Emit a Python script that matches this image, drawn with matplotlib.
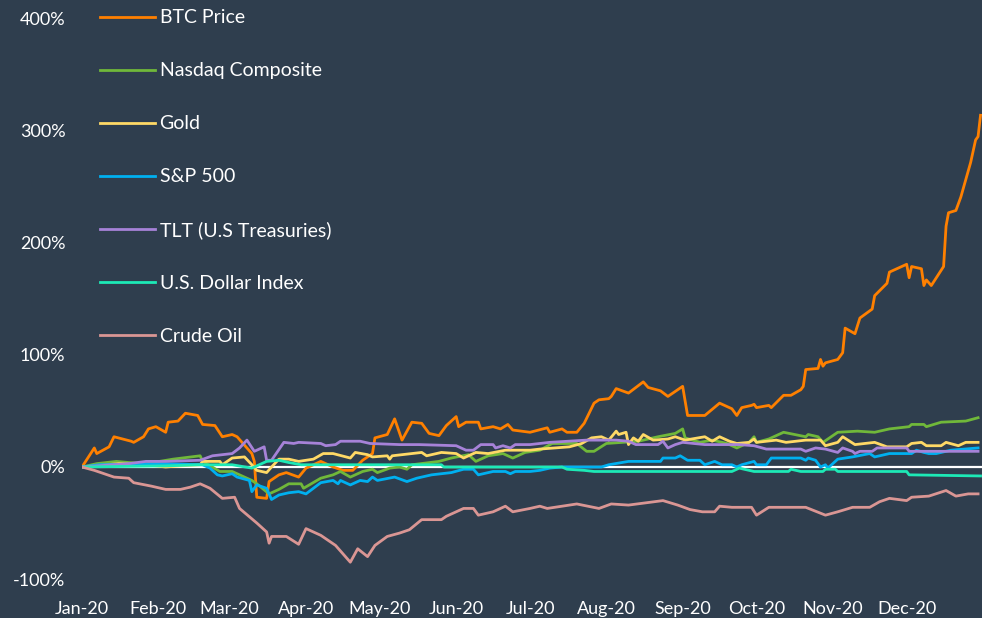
import numpy as np
import matplotlib
matplotlib.use("Agg")
import matplotlib.pyplot as plt
import matplotlib.dates as mdates

# Performance since Jan 1 2020 (%).
# x values are days after 2020-01-01
btc_days = [0, 5, 6, 11, 13, 20, 21, 25, 27, 30, 34, 35, 39, 42, 47, 49, 54, 57, 61, 63,
            69, 70, 71, 75, 76, 80, 83, 88, 91, 97, 102, 106, 110, 114, 118, 119, 124, 127,
            130, 134, 138, 141, 145, 148, 152, 153, 156, 161, 162, 167, 170, 173, 175, 182,
            189, 190, 195, 197, 201, 204, 208, 210, 214, 215, 217, 222, 225, 228, 230, 235,
            238, 240, 242, 244, 246, 253, 259, 264, 266, 268, 272, 273, 274, 279, 280, 285,
            288, 292, 293, 294, 299, 300, 301, 302, 307, 309, 310, 314, 316, 321, 322, 327,
            328, 335, 336, 337, 341, 342, 343, 345, 350, 351, 352, 355, 357, 361, 363, 364, 365]
btc_vals = [0, 17, 12, 18, 27, 23, 22, 27, 34, 36, 31, 40, 41, 48, 46, 38, 37, 27, 29, 27,
            12, 5, -27, -28, -13, -7, -5, -9, -1, 5, 0, -3, -3, 6, 12, 26, 29, 43,
            24, 40, 39, 30, 28, 37, 45, 36, 40, 40, 34, 36, 34, 38, 33, 31,
            35, 31, 34, 31, 31, 39, 57, 60, 61, 63, 70, 66, 71, 76, 71, 68,
            63, 66, 69, 72, 46, 46, 57, 52, 46, 53, 55, 56, 53, 55, 53, 64,
            64, 69, 72, 87, 88, 96, 90, 93, 96, 102, 124, 119, 133, 141, 153, 164,
            174, 181, 169, 179, 177, 162, 167, 162, 179, 215, 227, 229, 241, 272, 292, 295, 314]

nasdaq_days = [0, 6, 14, 19, 26, 37, 48, 49, 56, 61, 64, 69, 71, 76, 80, 84, 89, 90, 97, 102,
               105, 109, 114, 118, 120, 125, 129, 132, 134, 145, 150, 157, 160, 165, 171, 175,
               180, 186, 191, 201, 205, 208, 213, 226, 234, 241, 244, 245, 251, 256, 262, 266,
               271, 273, 274, 279, 285, 294, 295, 299, 301, 307, 315, 322, 328, 336, 337, 342,
               343, 349, 359, 364]
nasdaq_vals = [0, 3, 5, 4, 3, 7, 10, 5, -4, -4, -7, -12, -15, -24, -20, -15, -15, -19, -10, -7,
               -4, -9, -4, -2, -5, -1, 0, -2, 2, 5, 8, 11, 5, 10, 12, 8,
               13, 15, 21, 21, 14, 14, 21, 23, 27, 30, 34, 26, 22, 24, 21, 17,
               22, 27, 22, 25, 31, 27, 29, 27, 22, 31, 32, 31, 34, 36, 38, 38,
               36, 40, 41, 44]

gold_days = [0, 15, 26, 34, 40, 48, 49, 56, 57, 61, 66, 69, 71, 75, 77, 80, 84, 88, 94, 98,
             102, 109, 111, 116, 118, 124, 125, 126, 138, 140, 146, 152, 155, 160, 165, 172,
             182, 186, 198, 203, 207, 211, 214, 217, 218, 221, 222, 224, 226, 228, 232, 238,
             241, 245, 253, 256, 259, 263, 266, 271, 273, 274, 282, 286, 294, 300, 302, 307,
             309, 314, 322, 327, 335, 337, 341, 343, 349, 351, 356, 359, 364]
gold_vals = [0, 3, 2, 0, 1, 2, 5, 5, 2, 8, 9, 2, -3, -5, 0, 7, 7, 5, 7, 12,
             12, 8, 13, 11, 9, 10, 7, 10, 13, 10, 13, 12, 8, 13, 12, 15,
             15, 16, 18, 21, 26, 27, 24, 32, 29, 31, 20, 26, 23, 29, 24, 25,
             27, 24, 27, 23, 27, 23, 21, 22, 25, 22, 24, 22, 24, 24, 19, 22,
             27, 20, 22, 18, 18, 21, 22, 19, 19, 22, 19, 22, 22]

sp500_days = [0, 7, 33, 49, 52, 55, 57, 61, 63, 68, 69, 71, 75, 77, 80, 84, 88, 91, 97, 102,
              104, 105, 109, 113, 116, 118, 120, 127, 132, 136, 142, 150, 155, 159, 161, 167,
              172, 174, 176, 182, 186, 190, 195, 211, 214, 222, 235, 236, 241, 243, 246, 251,
              253, 257, 260, 264, 266, 268, 273, 274, 278, 280, 292, 294, 295, 298, 300, 302,
              303, 307, 313, 320, 322, 328, 337, 339, 342, 344, 347, 353, 364]
sp500_vals = [0, 2, 3, 2, -1, -7, -8, -6, -9, -12, -22, -16, -19, -29, -25, -23, -22, -24, -14, -12,
              -15, -12, -16, -12, -13, -9, -12, -9, -13, -10, -7, -5, -2, -2, -7, -4,
              -4, -6, -4, -4, -3, -1, 0, 0, 2, 5, 5, 8, 8, 10, 6, 6,
              2, 5, 2, 2, 0, 2, 5, 2, 2, 8, 8, 6, 8, 6, 0, 2,
              -1, 7, 9, 12, 9, 12, 12, 15, 13, 12, 12, 15, 17]

tlt_days = [0, 19, 26, 34, 48, 53, 57, 61, 64, 67, 70, 74, 75, 77, 82, 86, 88, 97, 99, 103,
            105, 113, 117, 129, 137, 152, 156, 159, 162, 167, 168, 171, 174, 176, 182, 190,
            205, 217, 222, 225, 234, 236, 238, 241, 244, 253, 267, 273, 278, 292, 294, 298,
            302, 307, 309, 313, 314, 316, 321, 323, 335, 336, 364]
tlt_vals = [0, 3, 5, 5, 6, 10, 11, 12, 17, 24, 14, 18, 6, 6, 22, 21, 22, 21, 19, 20,
            23, 23, 21, 20, 20, 19, 15, 15, 20, 20, 17, 19, 17, 20, 20, 22,
            24, 24, 23, 20, 20, 23, 17, 20, 22, 20, 20, 19, 16, 16, 14, 17,
            16, 13, 17, 14, 12, 14, 14, 17, 17, 14, 14]

usd_days = [0, 34, 48, 61, 69, 75, 80, 84, 89, 146, 147, 195, 197, 204, 208, 264, 267, 273,
            287, 288, 292, 301, 302, 306, 307, 335, 336, 365]
usd_vals = [0, 1, 2, 2, -1, 5, 6, 4, 2, 2, 0, 0, -2, -3, -4, -4, -1, -4,
            -4, -2, -4, -4, -2, -2, -4, -4, -7, -8]

oil_days = [0, 5, 13, 19, 21, 28, 34, 40, 44, 48, 52, 57, 62, 64, 71, 75, 76, 77, 83, 88,
            91, 97, 103, 109, 112, 116, 119, 124, 129, 133, 138, 146, 148, 155, 159, 161,
            167, 172, 175, 182, 186, 189, 201, 210, 215, 222, 236, 242, 247, 252, 257, 259,
            264, 272, 274, 279, 294, 302, 307, 313, 320, 324, 328, 335, 337, 344, 351, 355,
            360, 364]
oil_vals = [0, -3, -9, -10, -14, -17, -20, -20, -18, -15, -19, -28, -27, -37, -50, -58, -68, -62, -62, -69,
            -55, -61, -70, -85, -73, -80, -70, -62, -59, -56, -47, -47, -44, -37, -37, -43,
            -40, -35, -40, -37, -35, -37, -33, -37, -33, -34, -30, -34, -38, -40, -40, -35,
            -36, -36, -43, -36, -36, -43, -40, -36, -36, -31, -28, -30, -27, -26, -21, -26,
            -24, -24]

series = [
    ("BTC Price", btc_days, btc_vals, "#FF8000"),
    ("Nasdaq Composite", nasdaq_days, nasdaq_vals, "#70B83A"),
    ("Gold", gold_days, gold_vals, "#FFD966"),
    ("S&P 500", sp500_days, sp500_vals, "#00B0F0"),
    ("TLT (U.S Treasuries)", tlt_days, tlt_vals, "#A682D8"),
    ("U.S. Dollar Index", usd_days, usd_vals, "#1DE9B6"),
    ("Crude Oil", oil_days, oil_vals, "#DA9694"),
]

bg = "#2F3E4E"
start = np.datetime64("2020-01-01")

plt.rcParams["font.family"] = ["Lato", "DejaVu Sans"]

fig = plt.figure(figsize=(9.82, 6.18), dpi=100, facecolor=bg)
ax = fig.add_axes([0.0835, 0.0631, 0.9175, 0.9062], facecolor=bg)

ax.axhline(0, color="white", lw=1.6, zorder=1)

# later series are drawn on top, like the original
for name, days, vals, col in series:
    x = start + np.array(days, dtype="timedelta64[D]")
    ax.plot(x, vals, color=col, lw=2.0, label=name, zorder=2)

ax.set_xlim(start, np.datetime64("2021-01-01"))
ax.set_ylim(-100, 400)
ax.set_yticks([-100, 0, 100, 200, 300, 400])
ax.yaxis.set_major_formatter(plt.FuncFormatter(lambda v, p: f"{v:.0f}%"))
month_ticks = np.arange("2020-01", "2021-01", dtype="datetime64[M]").astype("datetime64[D]")
ax.set_xticks(month_ticks)
ax.xaxis.set_major_formatter(mdates.DateFormatter("%b-%y"))

ax.tick_params(axis="both", colors="white", labelsize=13, length=0)
ax.tick_params(axis="x", pad=16)
ax.tick_params(axis="y", pad=12)
for s in ax.spines.values():
    s.set_visible(False)

leg = fig.legend(loc="upper left", bbox_to_anchor=(0.0845, 1.013), frameon=False,
                 fontsize=14, labelcolor="white", handlelength=2.78,
                 handletextpad=0.26, labelspacing=1.85)

fig.savefig("out.png", dpi=100, facecolor=bg)
